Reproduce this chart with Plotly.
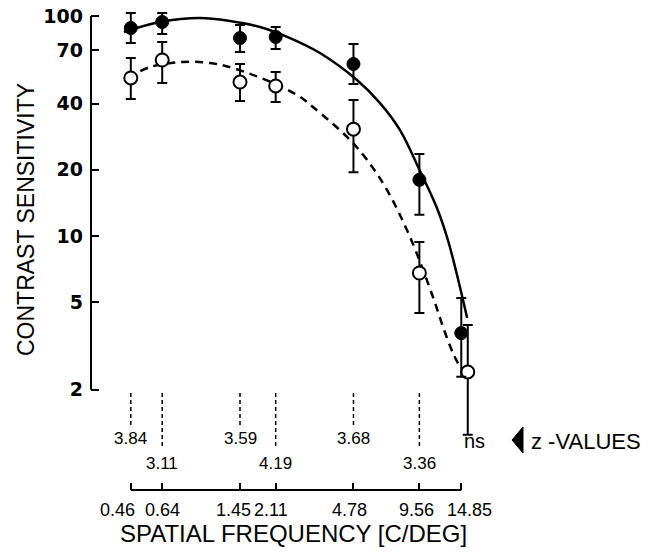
import numpy as np
import plotly.graph_objects as go

# ---------------- data ----------------
freq_ticks = [0.46, 0.64, 1.45, 2.11, 4.78, 9.56, 14.85]
freq_labels = ["0.46", "0.64", "1.45", "2.11", "4.78", "9.56", "14.85"]
y_ticks = [2, 5, 10, 20, 40, 70, 100]

filled_x = [0.46, 0.64, 1.45, 2.11, 4.78, 9.56, 14.85]
filled_y = [88.2, 93.9, 79.4, 80.3, 60.5, 18.0, 3.62]
filled_hi = [103.2, 103.2, 91.0, 89.1, 74.6, 23.6, 5.22]
filled_lo = [75.4, 82.8, 68.6, 70.8, 49.1, 12.5, 2.29]

open_x = [0.46, 0.64, 1.45, 2.11, 4.78, 9.56, 15.9]
open_y = [52.3, 63.1, 50.1, 48.1, 30.6, 6.79, 2.41]
open_hi = [64.4, 76.2, 60.5, 55.6, 41.5, 9.39, 3.94]
open_lo = [42.0, 49.6, 41.1, 40.6, 19.5, 4.47, 1.25]

solid_x = [0.428, 0.625, 0.952, 1.305, 1.789, 2.454, 3.36, 4.96, 6.32,
           7.80, 9.62, 11.5, 12.9, 14.35, 15.8]
solid_y = [84.6, 93.9, 97.9, 94.9, 89.1, 79.4, 67.9, 51.2, 40.2,
           30.3, 19.75, 13.4, 9.59, 6.38, 4.24]

dashed_x = [0.447, 0.563, 0.797, 1.058, 1.347, 2.05, 2.725, 3.12, 4.47, 5.51,
            6.80, 8.66, 11.03, 12.26, 13.6, 14.65]
dashed_y = [52.3, 58.6, 61.8, 61.1, 58.0, 49.6, 42.9, 38.6, 28.2, 22.2,
            16.2, 9.9, 5.28, 3.86, 2.94, 2.54]

z_labels = ["3.84", "3.11", "3.59", "4.19", "3.68", "3.36"]
z_freqs = [0.46, 0.64, 1.45, 2.11, 4.78, 9.56]
ns_label = "ns"

# ---------------- layout geometry (pixels) ----------------
W, H = 671, 554
PLOT_L, PLOT_T, PLOT_B = 91, 5, 490   # plot area in page px
PW = 570
PH = PLOT_B - PLOT_T
PX_DEC_X = 219.0
PX_DEC_Y = 220.0
x_lo = np.log10(1.45) - (240 - PLOT_L) / PX_DEC_X
x_hi = x_lo + PW / PX_DEC_X
y_hi = 2 + (16 - PLOT_T) / PX_DEC_Y
y_lo = y_hi - PH / PX_DEC_Y


def px2paper_x(px):
    return (px - PLOT_L) / PW


def px2paper_y(py):
    return (PLOT_B - py) / PH


def val2paper_y(v):
    return (np.log10(v) - y_lo) / (y_hi - y_lo)


FONT = "Liberation Sans, Arial, sans-serif"

fig = go.Figure()

fig.add_trace(go.Scatter(x=solid_x, y=solid_y, mode="lines",
                         line=dict(color="black", width=2.5, shape="spline", smoothing=1.0),
                         hoverinfo="skip"))
fig.add_trace(go.Scatter(x=dashed_x, y=dashed_y, mode="lines",
                         line=dict(color="black", width=2.5, dash="8px,6px", shape="spline", smoothing=1.0),
                         hoverinfo="skip"))

fig.add_trace(go.Scatter(
    x=open_x, y=open_y, mode="markers", cliponaxis=False,
    marker=dict(symbol="circle", size=13, color="white", line=dict(color="black", width=2)),
    error_y=dict(type="data", symmetric=False,
                 array=[h - v for h, v in zip(open_hi, open_y)],
                 arrayminus=[v - l for v, l in zip(open_y, open_lo)],
                 color="black", thickness=2, width=5)))

fig.add_trace(go.Scatter(
    x=filled_x, y=filled_y, mode="markers", cliponaxis=False,
    marker=dict(symbol="circle", size=13, color="black", line=dict(color="black", width=1)),
    error_y=dict(type="data", symmetric=False,
                 array=[h - v for h, v in zip(filled_hi, filled_y)],
                 arrayminus=[v - l for v, l in zip(filled_y, filled_lo)],
                 color="black", thickness=2, width=5)))

shapes = []
# y axis line from 2 to 100
shapes.append(dict(type="line", xref="paper", x0=0, x1=0, yref="paper",
                   y0=val2paper_y(y_ticks[0]), y1=val2paper_y(y_ticks[-1]),
                   line=dict(color="black", width=2)))
# detached x axis line
shapes.append(dict(type="line", xref="x", x0=freq_ticks[0], x1=freq_ticks[-1],
                   yref="paper", y0=0, y1=0, line=dict(color="black", width=2)))
# dashed z-value markers
for i, f in enumerate(z_freqs):
    bottom = 427 if i % 2 == 0 else 448
    shapes.append(dict(type="line", xref="x", x0=f, x1=f, yref="paper",
                       y0=px2paper_y(393), y1=px2paper_y(bottom),
                       line=dict(color="black", width=1.5, dash="4px,3px")))
# triangle pointer
tri = "M {} {} L {} {} L {} {} Z".format(
    px2paper_x(512), px2paper_y(440), px2paper_x(523), px2paper_y(427),
    px2paper_x(523), px2paper_y(453))
shapes.append(dict(type="path", xref="paper", yref="paper", path=tri,
                   fillcolor="black", line=dict(color="black", width=1)))

annotations = []
label_shift = [-13, 0, -7, -5, -4, -3, 8]
for f, t, s in zip(freq_ticks, freq_labels, label_shift):
    annotations.append(dict(x=np.log10(f), xref="x", y=px2paper_y(510), yref="paper",
                            text=t, showarrow=False, xanchor="center", yanchor="middle",
                            xshift=s, font=dict(family=FONT, size=18, color="black")))
for i, (f, t) in enumerate(zip(z_freqs, z_labels)):
    ypx = 438 if i % 2 == 0 else 463
    annotations.append(dict(x=np.log10(f), xref="x", y=px2paper_y(ypx), yref="paper",
                            text=t, showarrow=False, xanchor="center", yanchor="middle",
                            font=dict(family=FONT, size=17, color="black")))
annotations.append(dict(x=px2paper_x(474), xref="paper", y=px2paper_y(441), yref="paper",
                        text=ns_label, showarrow=False, xanchor="center", yanchor="middle",
                        font=dict(family=FONT, size=20, color="black")))
annotations.append(dict(x=px2paper_x(529), xref="paper", y=px2paper_y(441), yref="paper",
                        text="z -VALUES", showarrow=False, xanchor="left", yanchor="middle",
                        font=dict(family=FONT, size=22, color="black")))
annotations.append(dict(x=px2paper_x(293), xref="paper", y=px2paper_y(533), yref="paper",
                        text="SPATIAL FREQUENCY [C/DEG]", showarrow=False,
                        xanchor="center", yanchor="middle",
                        font=dict(family=FONT, size=24, color="black")))
annotations.append(dict(x=px2paper_x(26), xref="paper", y=px2paper_y(220), yref="paper",
                        text="CONTRAST SENSITIVITY", showarrow=False, textangle=-90,
                        xanchor="center", yanchor="middle",
                        font=dict(family=FONT, size=23, color="black")))

fig.update_layout(
    width=W, height=H,
    margin=dict(l=PLOT_L, r=W - PLOT_L - PW, t=PLOT_T, b=H - PLOT_B, autoexpand=False),
    paper_bgcolor="white", plot_bgcolor="white",
    showlegend=False,
    shapes=shapes, annotations=annotations,
    xaxis=dict(type="log", range=[x_lo, x_hi], showgrid=False, zeroline=False,
               showline=False, ticks="inside", ticklen=7, tickwidth=2, tickcolor="black",
               tickvals=freq_ticks, showticklabels=False),
    yaxis=dict(type="log", range=[y_lo, y_hi], showgrid=False, zeroline=False,
               showline=False, ticks="inside", ticklen=8, tickwidth=2, tickcolor="black",
               tickvals=y_ticks, ticktext=[str(v) for v in y_ticks],
               ticklabelstandoff=7, ticklabeloverflow="allow",
               tickfont=dict(family="DejaVu Sans, sans-serif", size=19, color="black",
                             weight="bold")),
)

# remove the browser's default 8px page margin so the figure sits at the page origin
fig.write_html("out.html",
               config={"displayModeBar": False},
               post_script="document.body.style.margin='0px';document.body.style.overflow='hidden';")
